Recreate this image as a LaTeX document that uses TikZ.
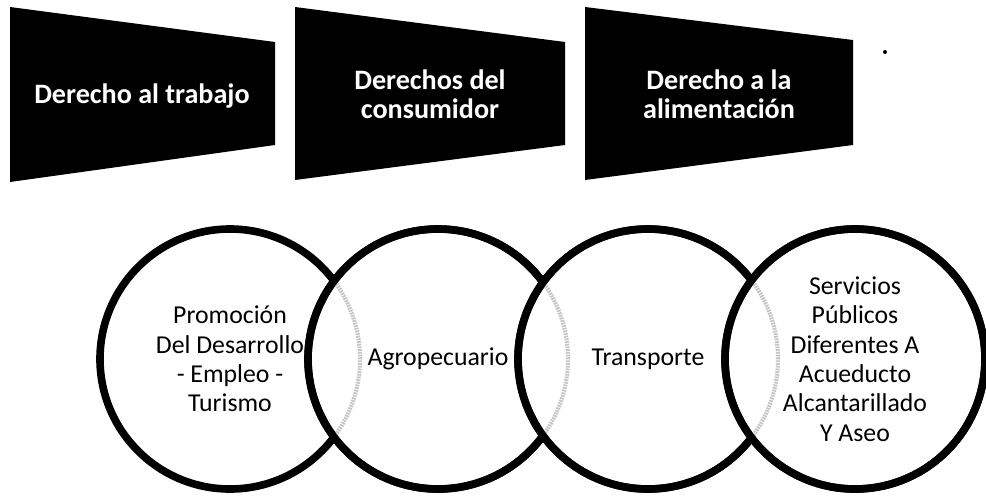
\documentclass[tikz,border=0pt]{standalone}
\usepackage{fontspec}
\setmainfont{Carlito}
\usepackage{tikz}

\tikzset{
  banner/.style={fill=black},
  bannertext/.style={text=white, font=\bfseries\fontsize{24}{25}\selectfont, align=center},
  venn/.style={circle, draw, line width=6.5pt, fill=white, minimum size=7.8cm, inner sep=0pt,
    align=center, font=\fontsize{22}{25}\selectfont},
  vennring/.style={draw, line width=6.5pt},
  lens/.style={draw=gray!45, line width=3.5pt, dash pattern=on 1.5pt off 0.8pt}
}

\begin{document}
\begin{tikzpicture}[x=0.03cm, y=-0.03cm]
  \useasboundingbox (0,0) rectangle (986,495);

  % Banners
  \fill[banner] (10,7) -- (275,42) -- (275,145) -- (10,182) -- cycle;
  \fill[banner] (295,7) -- (565,42) -- (565,145) -- (295,180) -- cycle;
  \fill[banner] (585,7) -- (853,40) -- (853,145) -- (585,180) -- cycle;
  \node[bannertext] (trabajo) at (142,96) {Derecho al trabajo};
  \node[bannertext] (consumidor) at (430,94) {Derechos del\\consumidor};
  \node[bannertext] (alimentacion) at (719,94) {Derecho a la\\alimentación};
  \fill (885,52) circle (2);

  % Circles
  \node[venn] (promocion) at (230,359) {Promoción\\Del Desarrollo\\- Empleo -\\Turismo};
  \node[venn] (agro) at (438,359) {Agropecuario};
  \begin{scope}
    \clip (agro.center) circle (3.9cm);
    \draw[lens] (promocion.center) circle (3.9cm);
  \end{scope}
  \draw[vennring] (agro.center) circle (3.9cm);

  \node[venn] (transporte) at (648,359) {Transporte};
  \begin{scope}
    \clip (transporte.center) circle (3.9cm);
    \draw[lens] (agro.center) circle (3.9cm);
  \end{scope}
  \draw[vennring] (transporte.center) circle (3.9cm);

  \node[venn] (servicios) at (855,359) {Servicios\\Públicos\\Diferentes A\\Acueducto\\Alcantarillado\\Y Aseo};
  \begin{scope}
    \clip (servicios.center) circle (3.9cm);
    \draw[lens] (transporte.center) circle (3.9cm);
  \end{scope}
  \draw[vennring] (servicios.center) circle (3.9cm);
\end{tikzpicture}
\end{document}
